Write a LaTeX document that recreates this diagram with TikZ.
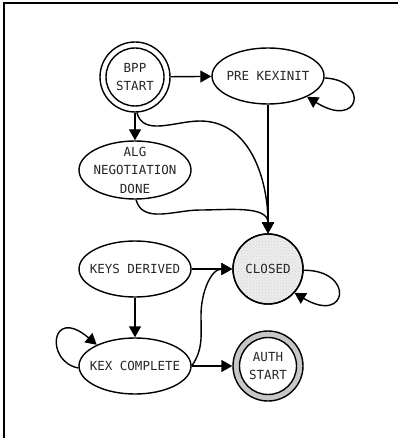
\documentclass[tikz,border=0pt]{standalone}
\usepackage{fontspec}
\newfontfamily\dmono{DejaVu Sans Mono}
\usetikzlibrary{arrows.meta,shapes.geometric,patterns}
\begin{document}
\begin{tikzpicture}[x=1pt,y=-1pt,
  line width=1.4pt,
  st/.style={draw,ellipse,minimum width=112pt,minimum height=56pt,inner sep=0pt},
  circ/.style={draw,circle,minimum size=70pt,inner sep=0pt},
  txt/.style={font=\dmono\fontsize{12.5}{18.5}\selectfont,align=center,inner sep=0pt,text=black!85},
  arr/.style={-{Triangle[length=11pt,width=12pt]}}
]
\useasboundingbox (0,0) rectangle (398,438);
\draw[line width=1.3pt] (4,438) -- (4,3) -- (398,3);

% nodes
\node[circ] (bpp) at (135,77) {};
\draw (bpp.center) circle (29);
\node[txt] (bppt) at (bpp) {BPP\\START};

\node[st] (pre) at (268,76) {};
\node[txt] (pret) at (pre) {PRE KEXINIT};

\node[st,minimum height=58pt] (alg) at (135,170) {};
\node[txt] (algt) at (alg) {ALG\\NEGOTIATION\\DONE};

\node[st] (keys) at (135,269) {};
\node[txt] (keyst) at (keys) {KEYS DERIVED};

\node[circ,fill=black!7] (closed) at (268,269) {};
\fill[pattern=crosshatch dots,pattern color=black!18] (closed.center) circle (34);
\draw (closed.center) circle (35);
\node[txt] (closedt) at (closed) {CLOSED};

\node[st] (kex) at (135,366) {};
\node[txt] (kext) at (kex) {KEX COMPLETE};

\node[circ,fill=black!22] (auth) at (268,366) {};
\draw[fill=white] (auth.center) circle (28.5);
\node[txt] (autht) at (auth) {AUTH\\START};

% edges
\draw[arr] (bpp) -- (pre);
\draw[arr] (pre.-2) .. controls (370,80) and (360,130) .. (pre.-28);
\draw[arr] (bpp) -- (alg);
\draw[arr] (bpp.-87) to[out=-75,in=180] (200,121) to[out=0,in=90] (closed.north);
\draw[arr] (pre) -- (closed);
\draw[arr] (alg.-88) to[out=-75,in=180] (200,210) to[out=0,in=90] (closed.north);
\draw[arr] (keys) -- (closed);
\draw[arr] (keys) -- (kex);
\draw[arr] (kex.182) .. controls (45,362) and (50,305) .. (kex.151);
\draw[arr] (kex.east) to[out=55,in=-90] (201,315) to[out=90,in=180] (closed.west);
\draw[arr] (kex) -- (auth);
\draw[arr] (closed.-2) .. controls (355,270) and (348,325) .. (closed.-42);
\end{tikzpicture}
\end{document}
